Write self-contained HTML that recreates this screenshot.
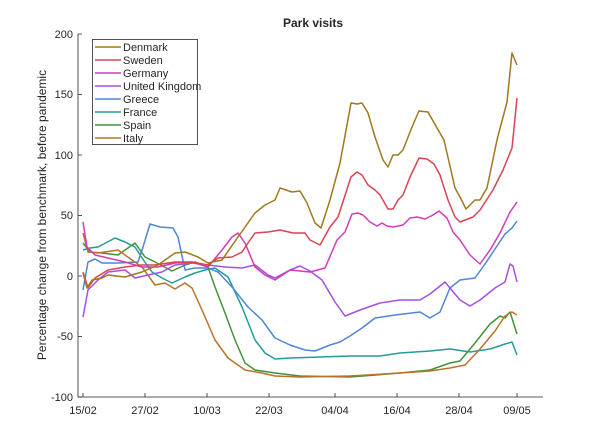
<!DOCTYPE html>
<html><head><meta charset="utf-8"><style>body{margin:0;background:#fff}svg{display:block}text{font-family:"Liberation Sans",sans-serif;fill:#262626}</style></head><body>
<svg width="600" height="446" viewBox="0 0 600 446">
<text x="313" y="27" font-size="12" font-weight="bold" text-anchor="middle">Park visits</text>
<g stroke="#262626" stroke-width="0.8" fill="none">
<path d="M78 34V397H543"/>
<path d="M78 34h4M78 94.5h4M78 155h4M78 215.5h4M78 276h4M78 336.5h4M78 397h4"/>
<path d="M83 397v-4M145 397v-4M207 397v-4M269 397v-4M335 397v-4M397 397v-4M459 397v-4M517 397v-4"/>
</g>
<g font-size="11" text-anchor="end">
<text x="73" y="38">200</text><text x="73" y="98">150</text><text x="73" y="159">100</text><text x="73" y="219">50</text><text x="73" y="280">0</text><text x="73" y="340">-50</text><text x="73" y="401">-100</text>
</g>
<g font-size="11" text-anchor="middle">
<text x="83" y="414">15/02</text><text x="145" y="414">27/02</text><text x="207" y="414">10/03</text><text x="269" y="414">22/03</text><text x="335" y="414">04/04</text><text x="397" y="414">16/04</text><text x="459" y="414">28/04</text><text x="517" y="414">09/05</text>
</g>
<text transform="translate(46,215) rotate(-90)" font-size="12" text-anchor="middle">Percentage change from benchmark, before pandemic</text>
<g fill="none" stroke-width="1.5" stroke-linejoin="round">
<polyline stroke="#239C9C" points="83,250 90,248 98,247 115,238 125,242 135,247 142,258 152,272 162,278 172,283 185,277 195,273 205,270 215,268 228,277 242,307 255,340 265,353 275,359 290,358 320,357 350,356 380,356 400,353 430,351 450,349 470,352 490,349 505,344 512,342 517,355"/>
<polyline stroke="#4F86D6" points="83,290 88,262 95,259 102,263 118,263 138,262 143,247 150,224 160,227 173,228 178,237 185,270 195,268 208,268 218,272 232,287 248,307 262,320 275,338 290,345 305,350 315,351 330,345 340,342 350,336 362,328 375,318 395,315 420,312 430,318 440,312 450,288 460,280 475,278 485,264 493,252 505,234 512,228 517,221"/>
<polyline stroke="#43923A" points="83,243 90,252 102,253 118,255 135,243 145,257 155,262 172,271 185,265 195,262 208,267 215,287 225,313 235,340 245,363 255,370 275,373 300,376 350,377 400,373 430,370 450,363 460,361 475,343 490,324 500,316 505,318 510,312 517,334"/>
<polyline stroke="#B8732A" points="83,233 88,252 98,253 118,250 132,260 142,267 155,285 165,283 175,289 185,283 192,288 202,310 215,340 228,358 245,370 262,373 275,376 300,377 350,376 400,373 430,371 450,368 465,365 480,349 495,331 505,316 512,312 517,315"/>
<polyline stroke="#A64FE0" points="83,317 88,290 98,280 108,272 125,270 135,278 148,275 162,272 175,265 192,263 208,265 225,267 242,268 255,265 268,275 275,278 290,270 300,266 310,271 322,280 335,302 345,316 360,310 380,303 400,300 420,300 430,294 440,286 445,282 450,288 460,300 470,306 480,300 495,288 505,282 510,264 513,266 517,282"/>
<polyline stroke="#D43BB8" points="83,222 87,247 95,255 108,258 125,262 142,267 158,267 175,263 192,262 208,267 222,250 232,237 238,233 245,243 255,267 265,275 275,280 290,270 310,272 325,268 337,240 345,232 352,214 358,213 363,215 370,222 377,226 382,223 387,226 393,227 403,225 410,218 417,217 425,219 433,215 439,211 447,218 453,232 460,240 470,255 480,264 490,250 500,233 510,212 517,202"/>
<polyline stroke="#D94452" points="83,272 88,288 95,278 108,270 125,267 142,265 155,265 175,262 192,262 208,265 218,258 232,257 242,252 248,243 255,233 268,232 280,230 293,233 305,233 310,240 320,245 330,227 338,217 351,177 357,172 362,175 368,185 375,190 380,195 388,209 393,209 398,200 403,195 410,177 419,158 427,159 434,164 440,175 448,200 455,217 460,222 473,217 480,210 493,190 503,170 512,148 517,98"/>
<polyline stroke="#A0781E" points="83,273 87,288 92,280 102,278 108,275 125,277 142,272 158,265 175,253 185,252 198,257 208,263 222,260 238,237 255,213 265,205 275,200 280,188 292,192 300,191 307,203 315,223 321,228 330,200 340,163 351,103 357,104 362,103 368,113 375,137 383,160 388,167 393,155 398,155 403,150 412,127 419,111 428,112 437,128 444,140 455,188 460,197 466,209 475,200 480,200 487,188 497,140 507,102 512,53 517,65"/>
</g>
<rect x="92.5" y="39.5" width="105" height="105" fill="#fff" stroke="#262626" stroke-width="0.8"/>
<g stroke-width="1.5">
<line x1="95" x2="121" y1="47" y2="47" stroke="#A0781E"/>
<line x1="95" x2="121" y1="60" y2="60" stroke="#D94452"/>
<line x1="95" x2="121" y1="73" y2="73" stroke="#D43BB8"/>
<line x1="95" x2="121" y1="86" y2="86" stroke="#A64FE0"/>
<line x1="95" x2="121" y1="99" y2="99" stroke="#4F86D6"/>
<line x1="95" x2="121" y1="112" y2="112" stroke="#239C9C"/>
<line x1="95" x2="121" y1="125" y2="125" stroke="#43923A"/>
<line x1="95" x2="121" y1="138" y2="138" stroke="#B8732A"/>
</g>
<g font-size="11" fill="#000">
<text x="123" y="51">Denmark</text><text x="123" y="64">Sweden</text><text x="123" y="77">Germany</text><text x="123" y="90">United Kingdom</text><text x="123" y="103">Greece</text><text x="123" y="116">France</text><text x="123" y="129">Spain</text><text x="123" y="142">Italy</text>
</g>
</svg>
</body></html>
